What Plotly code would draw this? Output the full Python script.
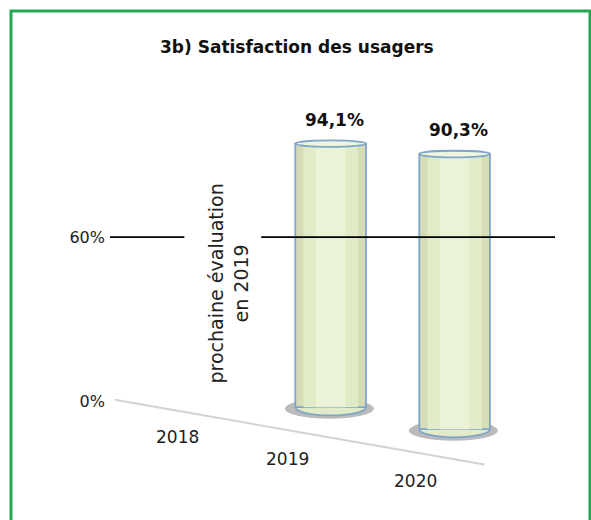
import plotly.graph_objects as go

# ---- data ----
years = ["2018", "2019", "2020"]
satisfaction = [None, 94.1, 90.3]          # % satisfied users (2018: no evaluation)
target = 60                                # reference line
tick_vals = [0, 60]
tick_text = ["0%", "60%"]
title_text = "3b) Satisfaction des usagers"
note_text = "prochaine évaluation<br>en 2019"

# ---- style (perspective imitation) ----
floor_drop = [0, -2, -10]      # bar bottoms sink with perspective
label_drop = [-13, -21, -29]   # staggered category labels
label_shift = [-29, -43, -39]
bar_edge = "#7fa5ca"
shades = [("#d5dcb6", 0.57), ("#e2ebc8", 0.44), ("#ebf3d6", 0.24)]  # cylinder shading
font_family = "'DejaVu Sans', sans-serif"

fig = go.Figure()

idx = [i for i, v in enumerate(satisfaction) if v is not None]
for k, (col, w) in enumerate(shades):
    fig.add_trace(go.Bar(
        x=idx,
        y=[satisfaction[i] - floor_drop[i] for i in idx],
        base=[floor_drop[i] for i in idx],
        width=w,
        marker=dict(color=col,
                    line=dict(color=bar_edge if k == 0 else col,
                              width=1.8 if k == 0 else 0)),
        hovertemplate="%{customdata[0]}: %{customdata[1]:.1f}%<extra></extra>",
        customdata=[[years[i], satisfaction[i]] for i in idx],
    ))

shapes = []
for i in idx:
    b = floor_drop[i]
    top = satisfaction[i]
    # soft shadow
    shapes.append(dict(type="circle", xref="x", yref="y", layer="below",
                       x0=i - 0.37, x1=i + 0.35, y0=b - 4.2, y1=b + 3.2,
                       fillcolor="rgba(60,60,60,0.35)", line=dict(width=0)))
    # rounded bottom
    shapes.append(dict(type="circle", xref="x", yref="y", layer="below",
                       x0=i - 0.285, x1=i + 0.285, y0=b - 3.0, y1=b + 3.0,
                       fillcolor=shades[1][0], line=dict(color=bar_edge, width=1.8)))
    # top face
    shapes.append(dict(type="circle", xref="x", yref="y", layer="above",
                       x0=i - 0.285, x1=i + 0.285, y0=top - 1.2, y1=top + 1.2,
                       fillcolor="#eef5dc", line=dict(color=bar_edge, width=1.8)))
# floor line
shapes.append(dict(type="line", xref="x", yref="y", layer="below",
                   x0=-0.74, y0=0.7, x1=2.24, y1=-22.9,
                   line=dict(color="#d2d2d2", width=2)))
# 60% reference line (interrupted by the note)
shapes.append(dict(type="line", xref="x", yref="y", x0=-0.78, x1=-0.18,
                   y0=target, y1=target, line=dict(color="black", width=1.6)))
shapes.append(dict(type="line", xref="x", yref="y", x0=0.44, x1=2.81,
                   y0=target, y1=target, line=dict(color="black", width=1.6)))
# green frame
shapes.append(dict(type="rect", xref="paper", yref="paper",
                   xsizemode="pixel", ysizemode="pixel", xanchor=0, yanchor=0,
                   x0=-99, x1=480, y0=-50, y1=473,
                   line=dict(color="#22a84f", width=3), fillcolor="rgba(0,0,0,0)"))

annotations = []
for i in idx:
    annotations.append(dict(x=i, y=satisfaction[i], yshift=24, xshift=4,
                            text="<b>" + f"{satisfaction[i]:.1f}%".replace(".", ",") + "</b>",
                            showarrow=False,
                            font=dict(family=font_family, size=17, color="#111")))
for i, yr in enumerate(years):
    annotations.append(dict(x=i, y=label_drop[i], xshift=label_shift[i], text=yr,
                            showarrow=False,
                            font=dict(family=font_family, size=17, color="#222")))
annotations.append(dict(x=0, y=43, xshift=22, text=note_text,
                        textangle=-90, showarrow=False,
                        font=dict(family=font_family, size=19, color="#222")))
annotations.append(dict(xref="paper", yref="paper", x=0.42, y=1.17,
                        text=f"<b>{title_text}</b>", showarrow=False,
                        font=dict(family=font_family, size=17, color="#111")))

fig.update_layout(
    width=591, height=520,
    margin=dict(l=110, r=36, t=100, b=36),
    paper_bgcolor="white", plot_bgcolor="white",
    showlegend=False, barmode="overlay",
    shapes=shapes, annotations=annotations,
    xaxis=dict(range=[-0.78, 2.81], showticklabels=False, showgrid=False,
               zeroline=False, showline=False, ticks=""),
    yaxis=dict(range=[-30, 110], tickvals=tick_vals, ticktext=tick_text,
               showgrid=False, zeroline=False, showline=False, ticks="",
               ticklabelstandoff=4,
               tickfont=dict(family=font_family, size=16, color="#222")),
    font=dict(family=font_family),
)

fig.write_html("out.html", config={"displayModeBar": False},
               post_script="document.body.style.margin='0';")
